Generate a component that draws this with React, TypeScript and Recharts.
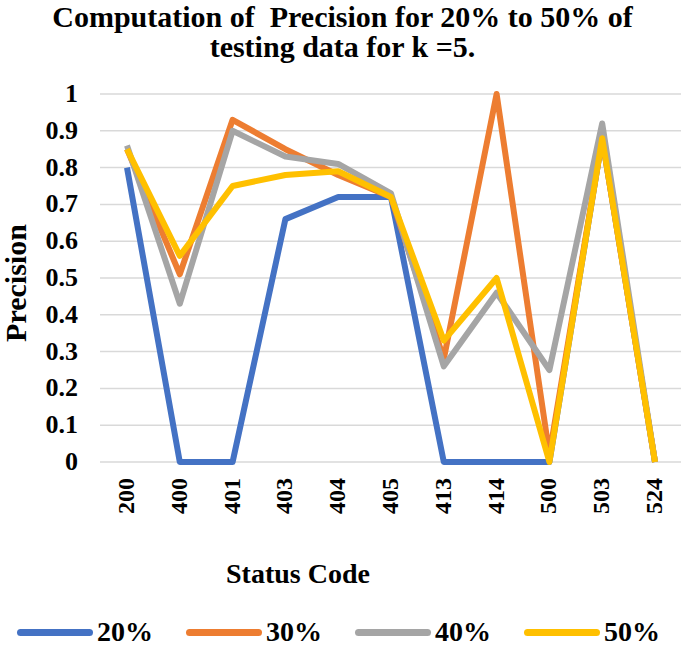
import React from 'react';
import { LineChart, Line, XAxis, YAxis, CartesianGrid } from 'recharts';

// status codes on the x axis
const codes = ['200', '400', '401', '403', '404', '405', '413', '414', '500', '503', '524'];

// precision per test split
const p20 = [0.8, 0, 0, 0.66, 0.72, 0.72, 0, 0, 0, 0.88, 0];
const p30 = [0.85, 0.51, 0.93, 0.85, 0.78, 0.72, 0.28, 1.0, 0.02, 0.88, 0];
const p40 = [0.86, 0.43, 0.9, 0.83, 0.81, 0.73, 0.26, 0.46, 0.25, 0.92, 0];
const p50 = [0.85, 0.56, 0.75, 0.78, 0.79, 0.72, 0.33, 0.5, 0, 0.88, 0];

const yTicks = [0, 0.1, 0.2, 0.3, 0.4, 0.5, 0.6, 0.7, 0.8, 0.9, 1];

const series = [
  { key: 'p20', name: '20%', color: '#4472C4' },
  { key: 'p30', name: '30%', color: '#ED7D31' },
  { key: 'p40', name: '40%', color: '#A5A5A5' },
  { key: 'p50', name: '50%', color: '#FFC000' },
];

const data = codes.map((c, i) => ({ code: c, p20: p20[i], p30: p30[i], p40: p40[i], p50: p50[i] }));

const FONT = "'Liberation Serif', 'Times New Roman', 'DejaVu Serif', serif";

const XTick = ({ x, payload }: any) => (
  <text
    transform={`translate(${x + 7},478) rotate(-90)`}
    textAnchor="end"
    style={{ fontFamily: FONT, fontWeight: 'bold', fontSize: 24 }}
    fill="#000"
  >
    {payload.value}
  </text>
);

const YTick = ({ y, payload }: any) => (
  <text x={78} y={y + 8} textAnchor="end" style={{ fontFamily: FONT, fontWeight: 'bold', fontSize: 26 }} fill="#000">
    {payload.value}
  </text>
);

export default function App() {
  return (
    <div style={{ position: 'absolute', left: 0, top: 0, width: 685, height: 650, background: '#fff', fontFamily: FONT }}>
      <div
        style={{
          position: 'absolute',
          left: 0,
          top: 2,
          width: 685,
          textAlign: 'center',
          fontFamily: FONT,
          fontWeight: 'bold',
          fontSize: 30,
          lineHeight: '30px',
        }}
      >
        Computation of&nbsp; Precision for 20% to 50% of
        <br />
        testing data for k =5.
      </div>
      <LineChart width={685} height={650} data={data} margin={{ top: 94, right: 4, bottom: 0, left: 0 }}>
        <CartesianGrid horizontal vertical={false} stroke="#d9d9d9" strokeWidth={1.5} />
        <XAxis
          dataKey="code"
          height={188}
          padding={{ left: 27, right: 26 }}
          axisLine={false}
          tickLine={false}
          interval={0}
          tick={<XTick />}
          label={{
            content: () => (
              <text x={298} y={583} textAnchor="middle" style={{ fontFamily: FONT, fontWeight: 'bold', fontSize: 28 }} fill="#000">
                Status Code
              </text>
            ),
          }}
        />
        <YAxis
          width={100}
          domain={[0, 1]}
          ticks={yTicks}
          axisLine={false}
          tickLine={false}
          tick={<YTick />}
          label={{
            content: () => (
              <text
                transform="translate(26,283) rotate(-90)"
                textAnchor="middle"
                style={{ fontFamily: FONT, fontWeight: 'bold', fontSize: 30 }}
                fill="#000"
              >
                Precision
              </text>
            ),
          }}
        />
        {series.map((s) => (
          <Line
            key={s.key}
            type="linear"
            dataKey={s.key}
            name={s.name}
            stroke={s.color}
            strokeWidth={6}
            strokeLinejoin="round"
            dot={false}
            activeDot={false}
            isAnimationActive={false}
          />
        ))}
      </LineChart>
      <div style={{ position: 'absolute', top: 614, left: 0, width: 685, height: 36 }}>
        {series.map((s, i) => (
          <div
            key={s.key}
            style={{ position: 'absolute', left: 17 + i * 169, top: 0, display: 'flex', alignItems: 'center', height: 36 }}
          >
            <div style={{ width: 76, height: 7, borderRadius: 4, background: s.color, marginRight: 4 }} />
            <span style={{ fontFamily: FONT, fontWeight: 'bold', fontSize: 28, color: '#000' }}>{s.name}</span>
          </div>
        ))}
      </div>
    </div>
  );
}
